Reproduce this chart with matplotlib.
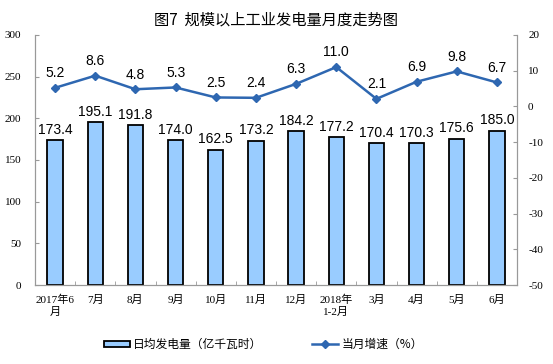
import matplotlib
matplotlib.use("Agg")
import matplotlib.pyplot as plt
import numpy as np

plt.rcParams["axes.unicode_minus"] = False

# Category labels and series values
months = ["2017年6\n月", "7月", "8月", "9月", "10月", "11月", "12月",
          "2018年\n1-2月", "3月", "4月", "5月", "6月"]
daily_output = [173.4, 195.1, 191.8, 174.0, 162.5, 173.2, 184.2,
                177.2, 170.4, 170.3, 175.6, 185.0]
growth = [5.2, 8.6, 4.8, 5.3, 2.5, 2.4, 6.3, 11.0, 2.1, 6.9, 9.8, 6.7]

bar_color = "#99CCFF"
line_color = "#2E67B1"
serif = ["Liberation Serif", "Noto Sans CJK SC"]
sans = ["Liberation Sans", "Noto Sans CJK SC"]

fig = plt.figure(figsize=(5.53, 3.64), dpi=100)
ax = fig.add_axes([0.0633, 0.217, 0.8716, 0.687])
ax2 = ax.twinx()

x = np.arange(len(months))
bars = ax.bar(x, daily_output, width=0.38, color=bar_color,
              edgecolor="black", linewidth=1.3, label="日均发电量（亿千瓦时）")
for xi, v in zip(x, daily_output):
    ax.annotate(f"{v:.1f}", (xi, v), xytext=(0, 2.5), textcoords="offset points",
                ha="center", va="bottom", fontsize=10, family=sans)

ln, = ax2.plot(x, growth, color=line_color, linewidth=1.8, marker="D",
               markersize=4, label="当月增速（%）")
for xi, v in zip(x, growth):
    ax2.annotate(f"{v:.1f}", (xi, v), xytext=(0, 5.5), textcoords="offset points",
                 ha="center", va="bottom", fontsize=10, family=sans)

ax.set_xlim(-0.5, len(months) - 0.5)
ax.set_ylim(0, 300)
ax.set_yticks(range(0, 301, 50))
ax2.set_ylim(-50, 20)
ax2.set_yticks(range(-50, 21, 10))

ax.set_xticks(x)
ax.set_xticklabels(months, family=serif, fontsize=8, linespacing=1.2)
ax.set_xticks(np.arange(-0.5, len(months), 1), minor=True)
ax.tick_params(axis="x", which="major", length=0, pad=7)
ax.tick_params(axis="x", which="minor", length=3, direction="in", color="#999999")

for lab in ax.get_yticklabels():
    lab.set_family(serif)
for lab in ax2.get_yticklabels():
    lab.set_family(serif)
ax.tick_params(axis="y", labelsize=8, length=3, direction="in", color="#999999", pad=10)
ax2.tick_params(axis="y", labelsize=8, length=3, direction="in", color="#999999", pad=8)

for a in (ax, ax2):
    a.spines["top"].set_visible(False)
    for s in ("left", "right", "bottom"):
        a.spines[s].set_color("#999999")

fig.text(0.5, 0.945, "图7  规模以上工业发电量月度走势图", ha="center", va="center",
         fontsize=11, family=["Noto Sans CJK SC", "DejaVu Sans"])

fig.legend([bars, ln], ["日均发电量（亿千瓦时）", "当月增速（%）"],
           loc="center left", bbox_to_anchor=(0.168, 0.053), ncol=2, frameon=False,
           prop={"family": ["Noto Sans CJK SC", "DejaVu Sans"], "size": 8.5},
           columnspacing=4.2, handlelength=2.2, handleheight=0.5, handletextpad=0.3)

fig.savefig("out.png", dpi=100)
